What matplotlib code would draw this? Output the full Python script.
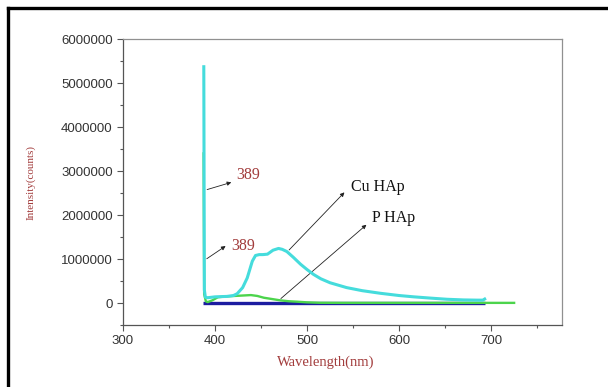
import matplotlib.pyplot as plt
from matplotlib.lines import Line2D
from matplotlib.ticker import MultipleLocator

# Spectra (wavelength in nm, intensity in counts)
cu_wl = [387.8, 388.4, 389.5, 392, 400, 413, 420, 424, 430, 435, 440.5, 444, 448, 452, 457,
         463, 469, 473, 478, 485, 493, 500, 507, 515, 525, 543, 560, 580, 600, 616, 635,
         652, 670, 685, 691, 693]
cu_int = [5370000, 300000, 130000, 120000, 140000, 150000, 170000, 210000, 350000, 570000,
          950000, 1080000, 1100000, 1100000, 1110000, 1200000, 1240000, 1220000, 1170000,
          1040000, 880000, 760000, 650000, 550000, 460000, 350000, 280000, 220000, 170000,
          140000, 110000, 85000, 70000, 65000, 65000, 90000]

p_wl = [387.6, 388.2, 390, 392, 397, 403, 412, 421, 430, 439, 446, 453, 462, 471, 480, 489,
        500, 514, 540, 600, 700, 725]
p_int = [3400000, 200000, 40000, 20000, 60000, 130000, 150000, 160000, 170000, 180000,
         160000, 120000, 90000, 60000, 40000, 30000, 15000, 5000, 3000, 3000, 3000, 3000]

base_wl = [387, 693]
base_int = [0, 0]

y_ticks = [0, 1000000, 2000000, 3000000, 4000000, 5000000, 6000000]
y_labels = ['0', '1000000', '2000000', '3000000', '4000000', '5000000', '6000000']
x_ticks = [300, 400, 500, 600, 700]

label_red = '#a23c3c'

fig = plt.figure(figsize=(6.08, 3.87), dpi=100)
ax = fig.add_axes([0.2023, 0.1602, 0.722, 0.739])

ax.plot(base_wl, base_int, color='#1c1ca0', lw=2.4, solid_capstyle='butt', zorder=3)
ax.plot(p_wl, p_int, color='#4cd44c', lw=1.7, zorder=4)
ax.plot(cu_wl, cu_int, color='#45dcdc', lw=2.2, zorder=5)

ax.set_xlim(300, 777)
ax.set_ylim(-500000, 6000000)
ax.set_xticks(x_ticks)
ax.xaxis.set_minor_locator(MultipleLocator(50))
ax.set_yticks(y_ticks)
ax.set_yticklabels(y_labels)
ax.yaxis.set_minor_locator(MultipleLocator(500000))

ax.tick_params(which='both', direction='out', color='#555555', width=0.8,
               labelsize=9.5, labelcolor='#333333', top=False, right=False)
ax.tick_params(which='major', length=4)
ax.tick_params(which='minor', length=2.5)
for t in ax.get_xticklabels() + ax.get_yticklabels():
    t.set_fontfamily('Liberation Sans')

for side in ['left', 'bottom']:
    ax.spines[side].set_color('#555555')
    ax.spines[side].set_linewidth(0.9)
for side in ['top', 'right']:
    ax.spines[side].set_color('#909090')
    ax.spines[side].set_linewidth(0.9)

ax.set_xlabel('Wavelength(nm)', fontfamily='Liberation Serif', fontsize=10.5,
              color=label_red)
ax.xaxis.set_label_coords(0.462, -0.105)
ax.set_ylabel('Intensity(counts)', fontfamily='Liberation Serif', fontsize=8,
              color=label_red, labelpad=18)

arrow = dict(arrowstyle='-|>', color='#222222', lw=0.6, mutation_scale=6)
ax.annotate('', xy=(420.6, 2760000), xytext=(388.5, 2560000), arrowprops=arrow)
ax.text(423.5, 2900000, '389', fontfamily='Liberation Serif', fontsize=11.5,
        color=label_red, va='center', ha='left')
ax.annotate('', xy=(414, 1330000), xytext=(388.5, 970000), arrowprops=arrow)
ax.text(417.8, 1300000, '389', fontfamily='Liberation Serif', fontsize=11.5,
        color=label_red, va='center', ha='left')
ax.annotate('', xy=(542.7, 2560000), xytext=(478.4, 1160000), arrowprops=arrow)
ax.text(547.8, 2640000, 'Cu HAp', fontfamily='Liberation Serif', fontsize=11.5,
        color='#111111', va='center', ha='left')
ax.annotate('', xy=(566.8, 1820000), xytext=(469.3, 60000), arrowprops=arrow)
ax.text(570.5, 1940000, 'P HAp', fontfamily='Liberation Serif', fontsize=11.5,
        color='#111111', va='center', ha='left')

# thick frame on the top and left edges of the picture
fig.add_artist(Line2D([8 / 608, 1.0], [1 - 8 / 387, 1 - 8 / 387], color='black', lw=2.4,
                      transform=fig.transFigure))
fig.add_artist(Line2D([8 / 608, 8 / 608], [1 - 8 / 387, 0.0], color='black', lw=2.4,
                      transform=fig.transFigure))

fig.savefig('out.png', dpi=100)
